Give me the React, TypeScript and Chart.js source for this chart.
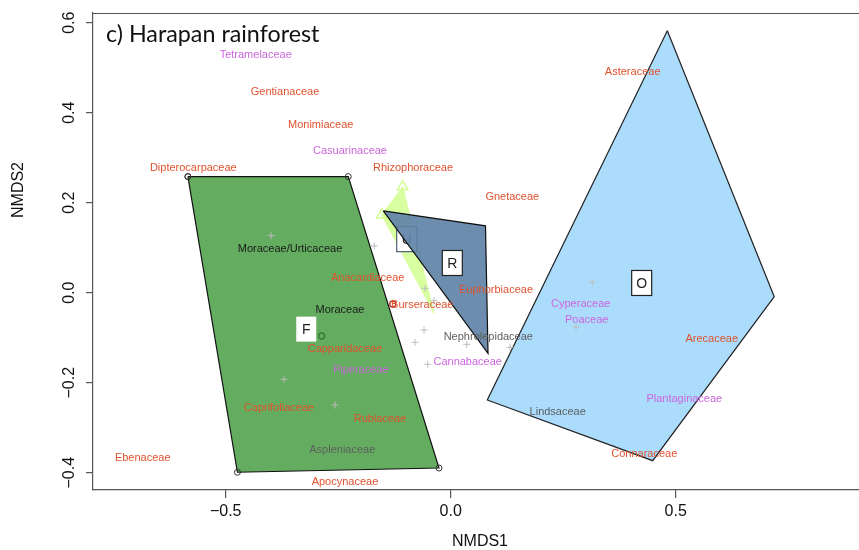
import React, { useEffect, useRef } from "react";
import { Chart, registerables } from "chart.js";
Chart.register(...registerables);

// Convex hull vertices (NMDS1, NMDS2)
const greenX = [-0.584, -0.2276, -0.026, -0.474];
const greenY = [0.258, 0.258, -0.3896, -0.399];
const limeX = [-0.1067, -0.1533, -0.0371];
const limeY = [0.2356, 0.1727, -0.0458];
const slateX = [-0.1498, 0.0773, 0.0829];
const slateY = [0.182, 0.1487, -0.1347];
const skyX = [0.4814, 0.719, 0.4489, 0.0813];
const skyY = [0.5822, -0.0089, -0.3733, -0.2384];

// Group labels
const groupNames = ["F", "U", "R", "O"];
const groupX = [-0.321, -0.0978, 0.0036, 0.4244];
const groupY = [-0.081, 0.119, 0.066, 0.0216];

// Site points (+)
const plusX = [-0.3993, -0.1698, -0.0571, -0.0371, -0.0593, -0.0793, -0.0511, 0.0356, 0.1318, 0.3147, 0.2784, -0.3704, -0.2571];
const plusY = [0.1267, 0.1038, 0.0098, -0.0178, -0.0829, -0.1102, -0.1591, -0.1147, -0.1213, 0.0231, -0.0769, -0.1924, -0.2496];

// Centroid markers
const greenMarkX = [-0.2867];
const greenMarkY = [-0.0962];
const redMarkX = [-0.1289];
const redMarkY = [-0.0251];

// Species (family) labels
const speciesNames = [
  "Tetramelaceae", "Gentianaceae", "Monimiaceae", "Casuarinaceae", "Dipterocarpaceae",
  "Rhizophoraceae", "Gnetaceae", "Asteraceae", "Moraceae/Urticaceae", "Anacardiaceae",
  "Moraceae", "Burseraceae", "Euphorbiaceae", "Capparidaceae", "Piperaceae",
  "Nephrolepidaceae", "Cannabaceae", "Cyperaceae", "Poaceae", "Arecaceae",
  "Plantaginaceae", "Lindsaceae", "Connaraceae", "Caprifoliaceae", "Rubiaceae",
  "Aspleniaceae", "Ebenaceae", "Apocynaceae",
];
const speciesX = [
  -0.4333, -0.3682, -0.2889, -0.2238, -0.572,
  -0.0838, 0.1369, 0.4044, -0.3571, -0.1844,
  -0.246, -0.0631, 0.1007, -0.2349, -0.2,
  0.0836, 0.0378, 0.2889, 0.3022, 0.58,
  0.5191, 0.2378, 0.4302, -0.3816, -0.1571,
  -0.2409, -0.6844, -0.2349,
];
const speciesY = [
  0.5282, 0.4467, 0.3727, 0.3156, 0.2778,
  0.2778, 0.212, 0.4898, 0.0971, 0.032,
  -0.0384, -0.0273, 0.006, -0.1258, -0.1718,
  -0.0978, -0.1533, -0.0258, -0.0607, -0.1029,
  -0.2362, -0.2658, -0.3591, -0.2569, -0.2807,
  -0.3496, -0.368, -0.42,
];
const speciesType = [
  "violet", "red", "red", "violet", "red",
  "red", "red", "red", "black", "red",
  "black", "red", "red", "red", "violet",
  "grey", "violet", "violet", "violet", "red",
  "violet", "grey", "red", "red", "red",
  "grey", "red", "red",
];

const xTickValues = [-0.5, 0, 0.5];
const yTickValues = [-0.4, -0.2, 0, 0.2, 0.4, 0.6];

const typeColors: Record<string, string> = {
  red: "#e0522e",
  violet: "#cc66dd",
  black: "#1a1a1a",
  grey: "#5e5e5e",
};

const SANS = '"Liberation Sans", Arial, Helvetica, sans-serif';

function closed(xs: number[], ys: number[]) {
  const pts = xs.map((x, i) => ({ x, y: ys[i] }));
  pts.push({ ...pts[0] });
  return pts;
}
function pts(xs: number[], ys: number[]) {
  return xs.map((x, i) => ({ x, y: ys[i] }));
}

function fmt(v: number) {
  return v.toFixed(1).replace("-", "\u2212");
}

function drawBox(ctx: CanvasRenderingContext2D, chart: any, i: number, border: string | null) {
  const px = chart.scales.x.getPixelForValue(groupX[i]);
  const py = chart.scales.y.getPixelForValue(groupY[i]);
  const w = 20, h = 25;
  ctx.save();
  ctx.fillStyle = "#ffffff";
  ctx.fillRect(px - w / 2, py - h / 2, w, h);
  if (border) {
    ctx.strokeStyle = border;
    ctx.lineWidth = 1.2;
    ctx.strokeRect(px - w / 2, py - h / 2, w, h);
  }
  ctx.fillStyle = "#222";
  ctx.font = `14px ${SANS}`;
  ctx.textAlign = "center";
  ctx.textBaseline = "middle";
  ctx.fillText(groupNames[i], px, py + 1);
  ctx.restore();
}

const LIME_INDEX = 2;

const overlay = {
  id: "overlay",
  afterDatasetDraw(chart: any, args: any) {
    if (args.index !== LIME_INDEX) return;
    drawBox(chart.ctx, chart, 1, "#4d6176");
  },
  afterDatasetsDraw(chart: any) {
    const ctx = chart.ctx as CanvasRenderingContext2D;
    const xs = chart.scales.x, ys = chart.scales.y;
    ctx.save();
    ctx.font = `11px ${SANS}`;
    ctx.textAlign = "center";
    ctx.textBaseline = "middle";
    speciesNames.forEach((n, i) => {
      ctx.fillStyle = typeColors[speciesType[i]];
      ctx.fillText(n, xs.getPixelForValue(speciesX[i]), ys.getPixelForValue(speciesY[i]));
    });
    ctx.restore();
    drawBox(ctx, chart, 0, null);
    drawBox(ctx, chart, 2, "#222");
    drawBox(ctx, chart, 3, "#222");
  },
  afterDraw(chart: any) {
    const ctx = chart.ctx as CanvasRenderingContext2D;
    const a = chart.chartArea;
    const xs = chart.scales.x, ys = chart.scales.y;
    ctx.save();
    // top border of the box
    ctx.strokeStyle = "#555";
    ctx.lineWidth = 1.2;
    ctx.beginPath();
    ctx.moveTo(a.left, a.top + 0.5);
    ctx.lineTo(a.right, a.top + 0.5);
    ctx.stroke();
    // tick labels
    ctx.fillStyle = "#111";
    ctx.font = `16px ${SANS}`;
    ctx.textAlign = "center";
    ctx.textBaseline = "middle";
    xs.ticks.forEach((t: any) => {
      ctx.fillText(fmt(t.value), xs.getPixelForValue(t.value), a.bottom + 22);
    });
    ys.ticks.forEach((t: any) => {
      ctx.save();
      ctx.translate(a.left - 23, ys.getPixelForValue(t.value));
      ctx.rotate(-Math.PI / 2);
      ctx.fillText(fmt(t.value), 0, 0);
      ctx.restore();
    });
    // axis titles
    ctx.fillText("NMDS1", 480, 542);
    ctx.save();
    ctx.translate(19, 190);
    ctx.rotate(-Math.PI / 2);
    ctx.fillText("NMDS2", 0, 0);
    ctx.restore();
    // panel title
    ctx.textAlign = "left";
    ctx.textBaseline = "alphabetic";
    ctx.fillStyle = "#111";
    ctx.font = `23.3px Lato, "Open Sans", sans-serif`;
    ctx.fillText("c) Harapan rainforest", 106, 42);
    ctx.restore();
  },
};

export default function App() {
  const ref = useRef<HTMLCanvasElement | null>(null);
  useEffect(() => {
    if (!ref.current) return;
    const xMin = (93 - 450.7) / 450;
    const xMax = (859 - 450.7) / 450;
    const yMin = (292.7 - 490) / 450;
    const yMax = (292.7 - 13) / 450;
    const chart = new Chart(ref.current, {
      type: "scatter",
      data: {
        datasets: [
          {
            type: "line",
            data: closed(skyX, skyY),
            fill: "shape",
            backgroundColor: "#abdcfc",
            borderColor: "#222",
            borderWidth: 1.2,
            tension: 0,
            pointRadius: 0,
            order: 6,
          } as any,
          {
            type: "line",
            data: closed(greenX, greenY),
            fill: "shape",
            backgroundColor: "#64ad60",
            borderColor: "#111",
            borderWidth: 1.2,
            tension: 0,
            pointRadius: 3,
            pointStyle: "circle",
            pointBorderColor: "#333",
            pointBorderWidth: 1,
            pointBackgroundColor: "rgba(0,0,0,0)",
            order: 5,
          } as any,
          {
            type: "line",
            data: closed(limeX, limeY),
            fill: "shape",
            backgroundColor: "rgba(212,255,150,0.9)",
            borderColor: "rgba(212,255,150,0.9)",
            borderWidth: 1,
            tension: 0,
            pointRadius: [6, 6, 0, 0],
            pointStyle: "triangle",
            pointBorderColor: "#d0ff90",
            pointBorderWidth: 1.5,
            pointBackgroundColor: "rgba(0,0,0,0)",
            order: 4,
          } as any,
          {
            type: "line",
            data: closed(slateX, slateY),
            fill: "shape",
            backgroundColor: "rgba(96,131,166,0.92)",
            borderColor: "#111",
            borderWidth: 1.2,
            tension: 0,
            pointRadius: 0,
            order: 3,
          } as any,
          {
            type: "scatter",
            data: pts(plusX, plusY),
            showLine: false,
            pointStyle: "cross",
            pointRadius: 3.5,
            pointBorderColor: "#bdbdbd",
            pointBorderWidth: 1,
            order: 2,
          } as any,
          {
            type: "scatter",
            data: pts(greenMarkX, greenMarkY),
            pointStyle: "circle",
            pointRadius: 3,
            pointBorderColor: "#2f7d2f",
            pointBorderWidth: 1.3,
            pointBackgroundColor: "rgba(0,0,0,0)",
            order: 1,
          } as any,
          {
            type: "scatter",
            data: pts(redMarkX, redMarkY),
            pointStyle: "circle",
            pointRadius: 3,
            pointBorderColor: "#b83a22",
            pointBorderWidth: 1.3,
            pointBackgroundColor: "rgba(0,0,0,0)",
            order: 0,
          } as any,
        ],
      },
      options: {
        responsive: false,
        animation: false,
        events: [],
        layout: { autoPadding: false, padding: { top: 13, right: 0, left: 0, bottom: 0 } },
        plugins: {
          legend: { display: false },
          tooltip: { enabled: false },
          title: { display: false },
        },
        scales: {
          x: {
            type: "linear",
            min: xMin,
            max: xMax,
            afterFit: (s: any) => { s.height = 60; s.paddingLeft = 0; s.paddingRight = 0; },
            afterBuildTicks: (s: any) => { s.ticks = xTickValues.map((v) => ({ value: v })); },
            ticks: { display: false, stepSize: 0.5, includeBounds: false },
            grid: { drawOnChartArea: false, drawTicks: true, tickLength: 8, color: "#555", lineWidth: 1.2 },
            border: { display: true, color: "#555", width: 1.2 },
          },
          y: {
            type: "linear",
            min: yMin,
            max: yMax,
            afterFit: (s: any) => { s.width = 93; s.paddingTop = 0; s.paddingBottom = 0; },
            afterBuildTicks: (s: any) => { s.ticks = yTickValues.map((v) => ({ value: v })); },
            ticks: { display: false, stepSize: 0.2, includeBounds: false },
            grid: { drawOnChartArea: false, drawTicks: true, tickLength: 7, color: "#555", lineWidth: 1.2 },
            border: { display: true, color: "#555", width: 1.2 },
          },
        },
      },
      plugins: [overlay],
    });
    return () => chart.destroy();
  }, []);
  return (
    <div style={{ position: "fixed", left: 0, top: 0, width: 859, height: 550, overflow: "hidden", background: "#fff" }}>
      <canvas ref={ref} width={859} height={550} style={{ display: "block" }} />
    </div>
  );
}
